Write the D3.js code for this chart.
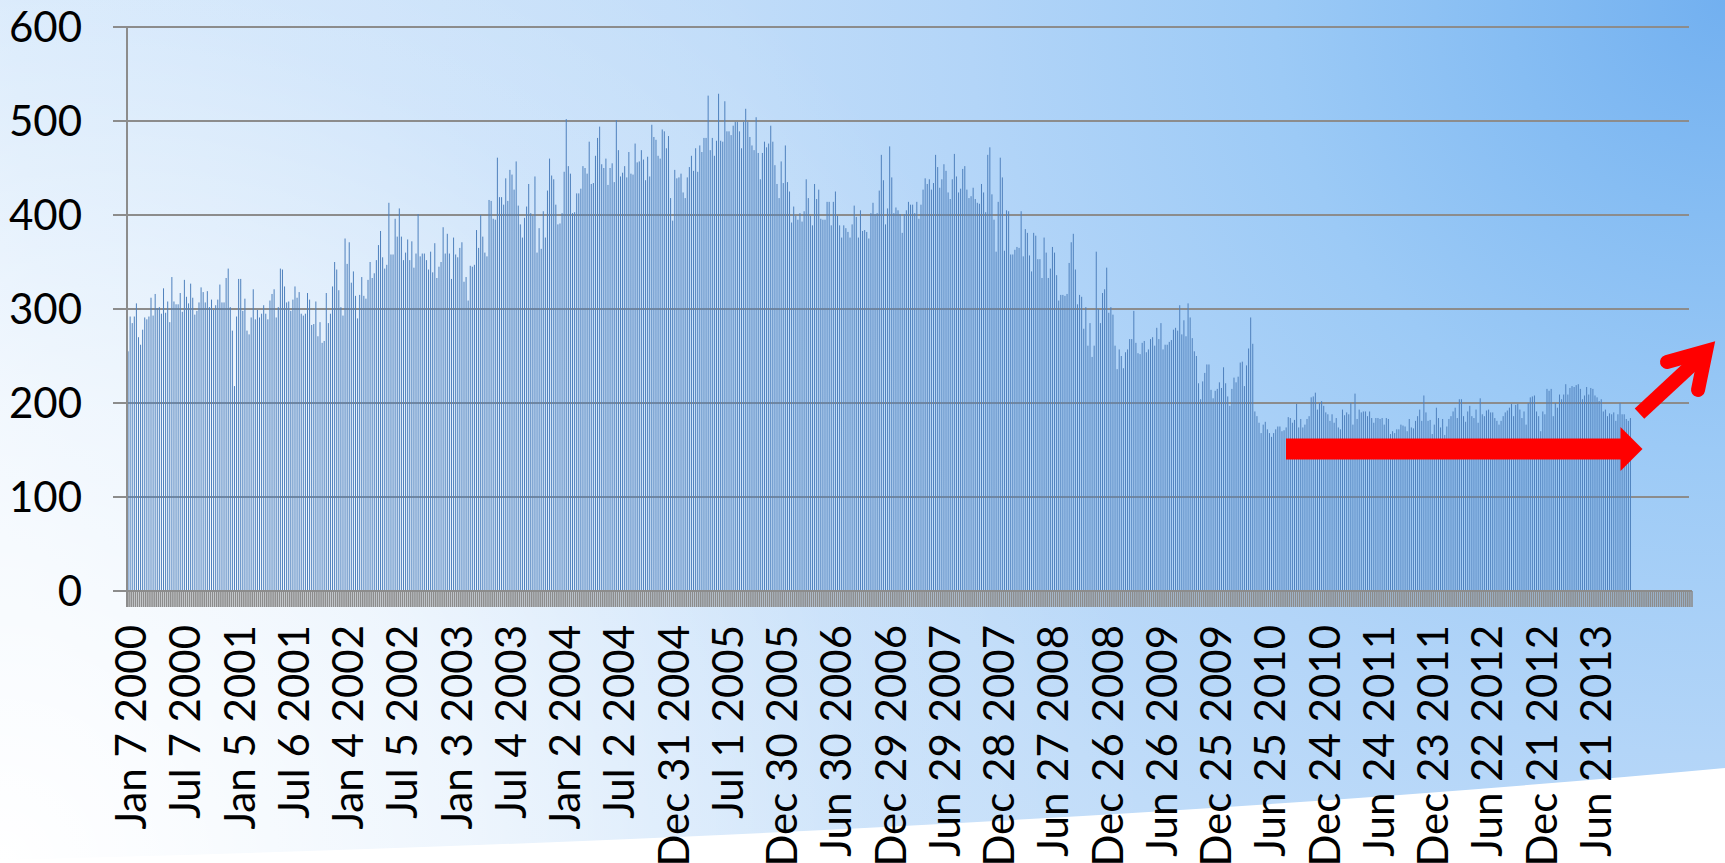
<!DOCTYPE html>
<html><head><meta charset="utf-8">
<script src="https://cdn.jsdelivr.net/npm/d3@7/dist/d3.min.js"></script>
<style>html,body{margin:0;padding:0;overflow:hidden;background:#fff}svg{display:block}</style>
</head><body><svg id="c" width="1725" height="863"></svg>
<script>
// Weekly values, Jan 7 2000 onward
const weeks2000to2002 = [
255,292,285,292,306,270,262,278,291,289,
292,312,293,316,301,302,295,322,296,308,
286,334,308,305,305,317,297,331,313,306,
327,312,294,298,307,323,318,307,319,302,
310,299,304,310,326,307,307,333,343,302,
277,218,292,332,332,298,311,277,273,291,
321,289,299,291,295,304,295,289,309,316,
321,291,302,343,342,324,307,308,298,310,
324,312,318,295,293,295,317,310,283,284,
308,271,286,264,266,317,285,295,324,350,
342,320,302,293,375,348,371,328,340,314,
290,315,334,314,311,331,350,333,338,352,
368,383,355,343,347,413,358,358,396,377,
407,377,352,360,374,352,372,344,359,401,
356,359,359,352];
const weeks2002to2005 = [
342,361,339,370,333,345,350,387,359,380,
359,332,376,358,355,365,371,329,334,309,
346,345,347,384,365,400,377,360,356,416,
415,396,395,461,419,419,411,439,415,448,
443,427,457,410,390,376,397,409,433,402,
399,441,360,386,364,404,376,426,460,442,
438,411,390,391,402,446,502,452,444,402,
403,423,423,428,452,450,444,478,433,434,
463,482,494,454,450,460,432,450,455,435,
501,469,441,445,452,440,467,444,443,476,
456,457,469,459,437,462,441,496,483,480,
463,460,491,489,471,484,418,394,448,439,
440,444,424,418,440,451,463,447,471,446,
474,467,482,482,527,469,482,463,479,529,
479,478,521,489,489,485];
const weeks2005to2008 = [
495,499,499,489,471,499,513,499,483,474,
469,504,466,438,466,478,472,476,495,478,
453,433,418,457,434,474,435,425,392,409,
399,395,402,393,404,438,418,399,389,433,
417,427,396,395,395,414,414,389,414,425,
399,389,376,389,386,382,376,390,410,398,
376,405,383,384,382,375,402,413,401,402,
426,464,437,390,407,473,440,402,408,405,
401,381,401,405,414,411,411,402,414,396,
411,427,439,433,438,427,434,464,451,429,
438,454,447,424,417,438,465,441,424,428,
449,452,427,418,420,429,417,413,412,433,
424,403,464,472,422,395,361,414,461,440,
362,405,404,358,358,363,366,365,404,356,
385,381,357,340,381];
const weeks2008to2010 = [
378,353,353,333,376,360,333,343,366,360,
336,309,315,315,314,316,349,371,380,342,
305,315,313,279,302,261,285,249,261,361,
300,285,317,321,344,296,302,294,261,236,
257,250,237,254,257,268,268,298,264,253,
252,264,266,254,257,268,270,261,280,268,
285,257,262,262,265,267,278,280,277,304,
273,288,271,306,291,269,255,250,221,204,
223,232,241,241,214,205,213,215,222,216,
238,221,207,197,215,227,222,228,243,244,
218,240,258,291];
const weeks2010to2013 = [
263,191,186,179,168,177,180,172,168,164,
168,172,175,175,170,171,174,185,184,179,
182,199,174,183,174,177,183,186,206,207,
211,193,200,202,197,190,188,181,188,179,
184,174,172,193,187,190,188,200,177,210,
183,193,190,191,191,186,191,184,179,184,
184,183,184,177,184,183,167,170,168,172,
172,177,176,175,170,183,174,173,181,186,
193,181,208,190,181,182,167,177,195,184,
174,183,166,175,183,186,191,195,184,204,
204,186,180,191,197,186,184,193,179,205,
188,186,192,193,190,190,184,181,177,181,
186,190,192,195,199,186,198,199,193,184,
191,177,200,206,207,208,191,186,170,191,
188,215,213,215,186,200,195,209,204,209,
220,209,216,218,217,219,220,215,204,208,
217,209,216,215,208,206,202,204,191,193,
186,189,188,190,181,188,200,188,188,183,
181,184];

const values = [].concat(weeks2000to2002, weeks2002to2005, weeks2005to2008, weeks2008to2010, weeks2010to2013);
const categoryCount = 750;               // weekly category slots on the axis
const categories = d3.range(categoryCount);
const labelEvery = 26;
const tickLabels = ["Jan 7 2000","Jul 7 2000","Jan 5 2001","Jul 6 2001","Jan 4 2002","Jul 5 2002",
"Jan 3 2003","Jul 4 2003","Jan 2 2004","Jul 2 2004","Dec 31 2004","Jul 1 2005","Dec 30 2005",
"Jun 30 2006","Dec 29 2006","Jun 29 2007","Dec 28 2007","Jun 27 2008","Dec 26 2008","Jun 26 2009",
"Dec 25 2009","Jun 25 2010","Dec 24 2010","Jun 24 2011","Dec 23 2011","Jun 22 2012","Dec 21 2012","Jun 21 2013"];
const yTicks = [0,100,200,300,400,500,600];

const W = 1725, H = 863;
const svg = d3.select('#c');
const defs = svg.append('defs');
const rg = defs.append('radialGradient').attr('id','bg')
  .attr('gradientUnits','userSpaceOnUse').attr('cx',W).attr('cy',0).attr('r',1800);
[[0,'#72b0f0'],[0.12,'#86bdf3'],[0.25,'#9ccaf6'],[0.42,'#b3d5f8'],[0.55,'#c0dcf9'],
 [0.75,'#cbe2fa'],[0.95,'#d5e8fb'],[1,'#dbebfc']].forEach(([o,c]) =>
  rg.append('stop').attr('offset',o).attr('stop-color',c));
const wg = defs.append('radialGradient').attr('id','glow')
  .attr('gradientUnits','userSpaceOnUse').attr('cx',0).attr('cy',H).attr('r',1150);
[[0,1],[0.4,0.65],[0.75,0.15],[1,0]].forEach(([o,a]) =>
  wg.append('stop').attr('offset',o).attr('stop-color','#ffffff').attr('stop-opacity',a));
svg.append('rect').attr('width',W).attr('height',H).attr('fill','url(#bg)');
svg.append('rect').attr('width',W).attr('height',H).attr('fill','url(#glow)');
svg.append('path').attr('d','M0,863 L0,860 Q1000,835 1725,768 L1725,863 Z').attr('fill','#ffffff');

const x = d3.scaleBand().domain(categories).range([127, 1692]).paddingInner(0).paddingOuter(0);
const y = d3.scaleLinear().domain([0, 600]).range([591, 27]);
const grey = '#8c8c8c';

// gridlines
svg.append('g').selectAll('line').data(yTicks.filter(t => t > 0)).join('line')
  .attr('x1', 113).attr('x2', 1689).attr('y1', d => y(d)).attr('y2', d => y(d))
  .attr('stroke', grey).attr('stroke-width', 2);

// bars
const bw = x.bandwidth() * 0.48;
svg.append('g').selectAll('rect').data(values).join('rect')
  .attr('x', (d, i) => x(i) + (x.bandwidth() - bw) / 2)
  .attr('y', d => y(d)).attr('width', bw).attr('height', d => y(0) - y(d))
  .attr('fill', '#4f81bd');

// x tick marks band
svg.append('g').selectAll('line').data(d3.range(categoryCount + 1)).join('line')
  .attr('x1', i => 127 + i * x.step()).attr('x2', i => 127 + i * x.step())
  .attr('y1', y(0)).attr('y2', y(0) + 16)
  .attr('stroke', grey).attr('stroke-width', 1.6);

// axes lines
svg.append('line').attr('x1', 113).attr('x2', 1692).attr('y1', y(0)).attr('y2', y(0))
  .attr('stroke', grey).attr('stroke-width', 2);
svg.append('line').attr('x1', 127).attr('x2', 127).attr('y1', y(600)).attr('y2', y(0) + 16)
  .attr('stroke', grey).attr('stroke-width', 2);

// y labels
svg.append('g').selectAll('text').data(yTicks).join('text')
  .attr('x', 82).attr('y', d => y(d)).attr('dy', '0.36em')
  .attr('text-anchor', 'end').attr('font-family', 'Lato, sans-serif').attr('font-size', 42)
  .attr('fill', '#000').text(d => d);

// x labels
svg.append('g').selectAll('text').data(tickLabels).join('text')
  .attr('transform', (d, k) => `translate(${x(k * labelEvery) + x.bandwidth() / 2 + 18},625) rotate(-90)`)
  .attr('text-anchor', 'end').attr('font-family', 'Lato, sans-serif').attr('font-size', 42)
  .attr('fill', '#000').text(d => d);

// red arrows (annotations)
svg.append('path').attr('fill', '#ff0000')
  .attr('d', 'M1286,438.5 L1620.5,438.5 L1620.5,427 L1642.5,449 L1620.5,471 L1620.5,459.5 L1286,459.5 Z');
svg.append('line').attr('x1', 1639.5).attr('y1', 413.7).attr('x2', 1707).attr('y2', 351)
  .attr('stroke', '#ff0000').attr('stroke-width', 14);
svg.append('path').attr('d', 'M1667,362 L1706,351 L1698,390')
  .attr('fill', 'none').attr('stroke', '#ff0000').attr('stroke-width', 14)
  .attr('stroke-linecap', 'round').attr('stroke-linejoin', 'miter').attr('stroke-miterlimit', 10);
</script></body></html>
